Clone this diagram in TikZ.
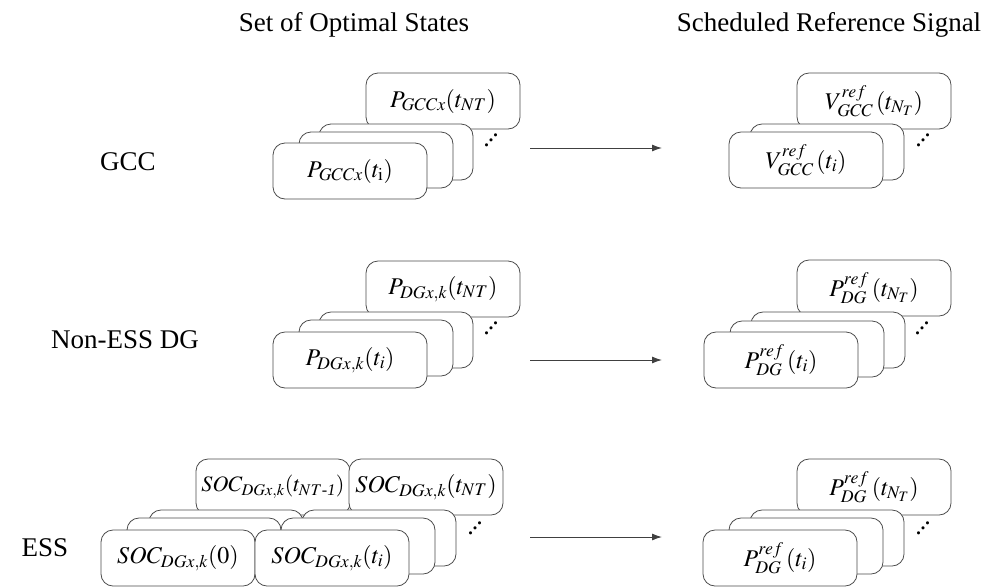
\documentclass[tikz,border=0pt]{standalone}
\usepackage{amsmath}
\usepackage{mathptmx}
\usepackage{fontspec}
\setmainfont{Liberation Serif}
\usetikzlibrary{arrows.meta,positioning}

\newcommand{\boxfont}{\fontsize{24}{28}\selectfont}
\newcommand{\labelfont}{\fontsize{27}{32}\selectfont}
\newcommand{\stackdots}{\mbox{.\kern-2pt\raisebox{5pt}{.}\kern-2pt\raisebox{10pt}{.}}}

\tikzset{
  stackbox/.style={draw=black!70, fill=white, line width=0.8pt, rounded corners=12pt,
    minimum width=154pt, minimum height=56pt, inner sep=0pt, font=\boxfont},
  rowlabel/.style={inner sep=0pt, font=\labelfont},
  dotsnode/.style={inner sep=0pt, font=\fontsize{26}{28}\selectfont},
  arr/.style={draw=black!75, line width=1pt, -{Latex[length=10pt,width=7pt]}}
}

\begin{document}
\begin{tikzpicture}[x=1pt, y=-1pt]
    \useasboundingbox (0,0) rectangle (992,587);

    % Headings
    \node[rowlabel] (hdL) at (354,25) {Set of Optimal States};
    \node[rowlabel] (hdR) at (829,25) {Scheduled Reference Signal};

    % Row labels
    \node[rowlabel] (lblGCC) at (128,162) {GCC};
    \node[rowlabel] (lblDG) at (125,340) {Non-ESS DG};
    \node[rowlabel] (lblESS) at (45,548) {ESS};

    % GCC: optimal states
    \node[stackbox] (gccLb) at (443,101) {$P_{GCCx}(t_{NT})$};
    \node[stackbox] (gccL2) at (396,152) {};
    \node[stackbox] (gccL1) at (376,160) {};
    \node[stackbox] (gccL0) at (350,171) {$P_{GCCx}(t_{\mathrm{i}})$};
    \node[dotsnode] (gccLd) at (491,140) {\stackdots};

    % GCC: reference signal
    \node[stackbox] (gccRb) at (874,101) {$V^{ref}_{GCC}\,(t_{N_T})$};
    \node[stackbox] (gccR1) at (827,152) {};
    \node[stackbox] (gccR0) at (806,160) {$V^{ref}_{GCC}\,(t_i)$};
    \node[dotsnode] (gccRd) at (923,140) {\stackdots};

    % Non-ESS DG: optimal states
    \node[stackbox] (dgLb) at (443,289) {$P_{DGx,k}(t_{NT})$};
    \node[stackbox] (dgL2) at (396,340) {};
    \node[stackbox] (dgL1) at (376,348) {};
    \node[stackbox] (dgL0) at (350,360) {$P_{DGx,k}(t_i)$};
    \node[dotsnode] (dgLd) at (491,328) {\stackdots};

    % Non-ESS DG: reference signal
    \node[stackbox] (dgRb) at (874,288) {$P^{ref}_{DG}\,(t_{N_T})$};
    \node[stackbox] (dgR2) at (828,340) {};
    \node[stackbox] (dgR1) at (807,349) {};
    \node[stackbox] (dgR0) at (781,360) {$P^{ref}_{DG}\,(t_i)$};
    \node[dotsnode] (dgRd) at (922,328) {\stackdots};

    % ESS: optimal states
    \node[stackbox, font=\fontsize{22}{26}\selectfont] (essLbl) at (273,487) {$SOC_{DGx,k}(t_{NT\text{\itshape -1}})$};
    \node[stackbox] (essLbr) at (426,487) {$SOC_{DGx,k}(t_{NT})$};
    \foreach \cx/\cy in {226/538, 379/538, 204/546, 358/546}
        \node[stackbox] at (\cx,\cy) {};
    \node[stackbox] (essL0l) at (178,558) {$SOC_{DGx,k}(0)$};
    \node[stackbox] (essL0r) at (332,558) {$SOC_{DGx,k}(t_i)$};
    \node[dotsnode] (essLd) at (475,528) {\stackdots};

    % ESS: reference signal
    \node[stackbox] (essRb) at (874,487) {$P^{ref}_{DG}\,(t_{N_T})$};
    \node[stackbox] (essR2) at (827,538) {};
    \node[stackbox] (essR1) at (806,546) {};
    \node[stackbox] (essR0) at (780,558) {$P^{ref}_{DG}\,(t_i)$};
    \node[dotsnode] (essRd) at (923,528) {\stackdots};

    % Scheduling arrows
    \coordinate (gccA) at (530,148);  \coordinate (gccB) at (662,148);
    \coordinate (dgA) at (530,360);   \coordinate (dgB) at (662,360);
    \coordinate (essA) at (530,537);  \coordinate (essB) at (662,537);
    \draw[arr] (gccA) -- (gccB);
    \draw[arr] (dgA) -- (dgB);
    \draw[arr] (essA) -- (essB);
\end{tikzpicture}
\end{document}
